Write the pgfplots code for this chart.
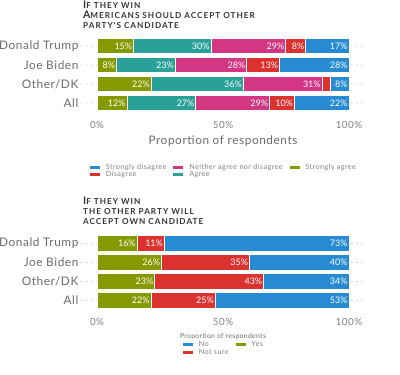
\documentclass[border=0pt]{standalone}
\usepackage{pgfplots}
\pgfplotsset{compat=1.18}
\pgfplotsset{compat/bar nodes=1.8}
\usepackage{fontspec}
\setmainfont{Lato}
\newfontfamily\titlefont{Lato}
\newfontfamily\lblfont[LetterSpace=5]{Lato}
\newfontfamily\legfont[LetterSpace=6]{Lato}
\definecolor{cSA}{HTML}{859900}
\definecolor{cA}{HTML}{2AA198}
\definecolor{cN}{HTML}{D33682}
\definecolor{cD}{HTML}{DC322F}
\definecolor{cSD}{HTML}{268BD2}
\definecolor{txt}{HTML}{6A6A6A}
\definecolor{ttl}{HTML}{333333}
\newcommand\smc[1]{{\fontsize{8.2}{8}\selectfont\MakeUppercase{#1}}}
\pgfplotsset{
  likert/.style={
    xbar stacked, bar width=15.5pt, scale only axis,
    width=282.24pt, height=79.8pt,
    xmin=-6, xmax=106, ymin=-0.6, ymax=3.6,
    axis line style={draw=none},
    major tick length=0pt,
    ytick={0,1,2,3}, yticklabels={All,Other/DK,Joe Biden,Donald Trump},
    yticklabel style={font=\lblfont\fontsize{11.8}{12}\selectfont, text=txt},
    xtick={0,50,100}, xticklabels={0\%,50\%,100\%},
    xticklabel style={font=\lblfont\fontsize{9.8}{10}\selectfont, text=gray, yshift=-3pt},
    ymajorgrids, grid style={gray!80, line width=1.1pt, line cap=round, dash pattern=on 0pt off 5pt},
    point meta=explicit symbolic,
    nodes near coords,
    every node near coord/.style={anchor=east, text=white, font=\fontsize{9}{9}\selectfont, inner sep=1pt},
    every axis plot/.append style={draw=white, line width=0.8pt},
    legend style={draw=none, fill=none, font=\legfont\fontsize{7.2}{7}\selectfont, text=gray,
      cells={anchor=west},
      nodes={inner sep=0.5pt}, /tikz/every even column/.append style={column sep=6pt}},
    reverse legend, transpose legend, legend columns=2,
    legend image code/.code={\path (0pt,0pt) -- (15pt,0pt);\fill[#1,draw=none] (0pt,-1.5pt) rectangle (10pt,1.5pt);},
  }
}
\begin{document}
\begin{tikzpicture}
\path[use as bounding box] (0,0) rectangle (400pt,375pt);
\node[anchor=north west, align=left, inner sep=0pt, text=ttl,
  font=\titlefont\bfseries\addfontfeatures{LetterSpace=12}\fontsize{10.5}{10}\selectfont] at (83pt,374.5pt)
  {I\smc{f they win}\\A\smc{mericans should accept other}\\\smc{party's candidate}};
\begin{axis}[likert, at={(81.9pt,260.6pt)}, anchor=south west,
  xlabel={Proportion of respondents},
  xlabel style={font=\lblfont\fontsize{11.8}{12}\selectfont, text=txt, yshift=-1pt},
  legend style={at={(0.5,-0.709)}, anchor=center}]
\addplot[fill=cSA] coordinates {(11.9,0) [12\%] (21.5,1) [22\%] (7.7,2) [8\%] (14.5,3) [15\%]};
\addplot[fill=cA] coordinates {(27.3,0) [27\%] (36.5,1) [36\%] (23.3,2) [23\%] (30.7,3) [30\%]};
\addplot[fill=cN] coordinates {(29.2,0) [29\%] (31.3,1) [31\%] (28.4,2) [28\%] (29.7,3) [29\%]};
\addplot[fill=cD] coordinates {(9.9,0) [10\%] (3.2,1) [{}] (13.0,2) [13\%] (7.9,3) [8\%]};
\addplot[fill=cSD] coordinates {(21.7,0) [22\%] (7.5,1) [8\%] (27.6,2) [28\%] (17.2,3) [17\%]};
\legend{Strongly agree, Agree, Neither agree nor disagree, Disagree, Strongly disagree}
\end{axis}
\node[anchor=north west, align=left, inner sep=0pt, text=ttl,
  font=\titlefont\bfseries\addfontfeatures{LetterSpace=12}\fontsize{10.5}{10}\selectfont] at (83pt,178pt)
  {I\smc{f they win}\\\smc{the other party will}\\\smc{accept own candidate}};
\begin{axis}[likert, at={(81.9pt,63.1pt)}, anchor=south west,
  xlabel={Proportion of respondents},
  xlabel style={font=\lblfont\fontsize{6.8}{7}\selectfont, text=txt, yshift=-1pt},
  legend style={at={(0.5,-0.46)}, anchor=center}]
\addplot[fill=cSA] coordinates {(21.4,0) [22\%] (22.9,1) [23\%] (25.6,2) [26\%] (15.9,3) [16\%]};
\addplot[fill=cD] coordinates {(25.5,0) [25\%] (43.2,1) [43\%] (34.9,2) [35\%] (10.8,3) [11\%]};
\addplot[fill=cSD] coordinates {(53.1,0) [53\%] (33.9,1) [34\%] (39.5,2) [40\%] (73.3,3) [73\%]};
\legend{Yes, Not sure, No}
\end{axis}
\end{tikzpicture}
\end{document}
